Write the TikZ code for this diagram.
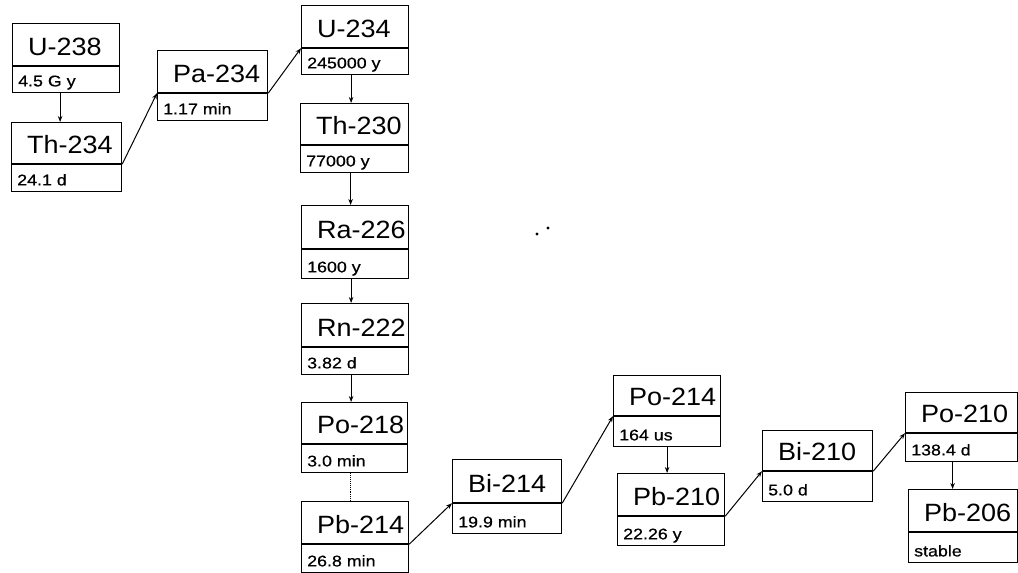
\documentclass[tikz,border=0pt]{standalone}
\usepackage{fontspec}
\setmainfont{Liberation Sans}
\newfontfamily\namefont[FakeStretch=1.08]{Liberation Sans}
\newfontfamily\timefont[FakeStretch=1.15,FakeBold=0.6]{Liberation Sans}
\usetikzlibrary{arrows.meta,calc}
\tikzset{
  part/.style={draw=black, line width=1.2pt, rectangle, inner sep=0pt, anchor=north west},
  nametext/.style={inner sep=0pt, anchor=base west, font=\namefont\fontsize{25}{26}\selectfont},
  timetext/.style={inner sep=0pt, anchor=base west, font=\timefont\fontsize{15.5}{16}\selectfont},
  decay/.style={draw=black, line width=1pt, -{Stealth[length=6pt,width=4.5pt]}},
}
\newcommand{\nuc}[8]{%
  \node[part, minimum width=#4pt, minimum height=#5pt] (#1n) at (#2,#3) {};
  \node[part, minimum width=#4pt, minimum height=#6pt] (#1t) at (#1n.south west) {};
  \node[nametext] (#1nl) at ([xshift=16pt,yshift=11pt]#1n.south west) {#7};
  \node[timetext] (#1tl) at ([xshift=6pt,yshift=7pt]#1t.south west) {#8};
}
\begin{document}
\begin{tikzpicture}[x=1pt,y=-1pt]
\useasboundingbox (0,0) rectangle (1018,573);
\nuc{U238}{12}{23}{107}{42}{26}{U-238}{4.5 G y}
\nuc{Th234}{11}{122}{110}{41}{27}{Th-234}{24.1 d}
\nuc{Pa234}{157}{50}{110}{42}{27}{Pa-234}{1.17 min}
\nuc{U234}{301}{5}{107}{42}{26}{U-234}{245000 y}
\nuc{Th230}{300}{103}{108}{41}{27}{Th-230}{77000 y}
\nuc{Ra226}{301}{205}{107}{43}{29}{Ra-226}{1600 y}
\nuc{Rn222}{301}{303}{107}{43}{27}{Rn-222}{3.82 d}
\nuc{Po218}{301}{402}{106}{41}{28}{Po-218}{3.0 min}
\nuc{Pb214}{301}{501}{107}{42}{28}{Pb-214}{26.8 min}
\nuc{Bi214}{452}{459}{109}{43}{30}{Bi-214}{19.9 min}
\nuc{Po214}{613}{375}{107}{40}{30}{Po-214}{164 us}
\nuc{Pb210}{617}{473}{107}{42}{29}{Pb-210}{22.26 y}
\nuc{Bi210}{762}{430}{110}{40}{30}{Bi-210}{5.0 d}
\nuc{Po210}{905}{392}{112}{40}{28}{Po-210}{138.4 d}
\nuc{Pb206}{908}{489}{109}{42}{30}{Pb-206}{stable}

% vertical decays
\draw[decay] ([xshift=-6pt]U238t.south) -- ([xshift=-6pt]U238t.south |- Th234n.north);
\draw[decay] ([xshift=-4pt]U234t.south) -- ([xshift=-4pt]U234t.south |- Th230n.north);
\draw[decay] ([xshift=-4pt]Th230t.south) -- ([xshift=-4pt]Th230t.south |- Ra226n.north);
\draw[decay] ([xshift=-4pt]Ra226t.south) -- ([xshift=-4pt]Ra226t.south |- Rn222n.north);
\draw[decay] ([xshift=-4pt]Rn222t.south) -- ([xshift=-4pt]Rn222t.south |- Po218n.north);
\draw[line width=0.9pt, densely dotted] ([xshift=-4pt]Po218t.south) -- ([xshift=-4pt]Po218t.south |- Pb214n.north);
\draw[decay] (Po214t.south) -- (Po214t.south |- Pb210n.north);
\draw[decay] ([xshift=-9pt]Po210t.south) -- ([xshift=-9pt]Po210t.south |- Pb206n.north);

% diagonal decays
\draw[decay] (Th234t.north east) -- (Pa234t.north west);
\draw[decay] (Pa234t.north east) -- (U234t.north west);
\draw[decay] (Pb214t.north east) -- (Bi214t.north west);
\draw[decay] (Bi214t.north east) -- (Po214t.north west);
\draw[decay] (Pb210t.north east) -- (Bi210t.north west);
\draw[decay] (Bi210t.north east) -- (Po210t.north west);

% specks
\fill (537,234) circle (1.6);
\fill (548,228) circle (1.6);
\end{tikzpicture}
\end{document}
